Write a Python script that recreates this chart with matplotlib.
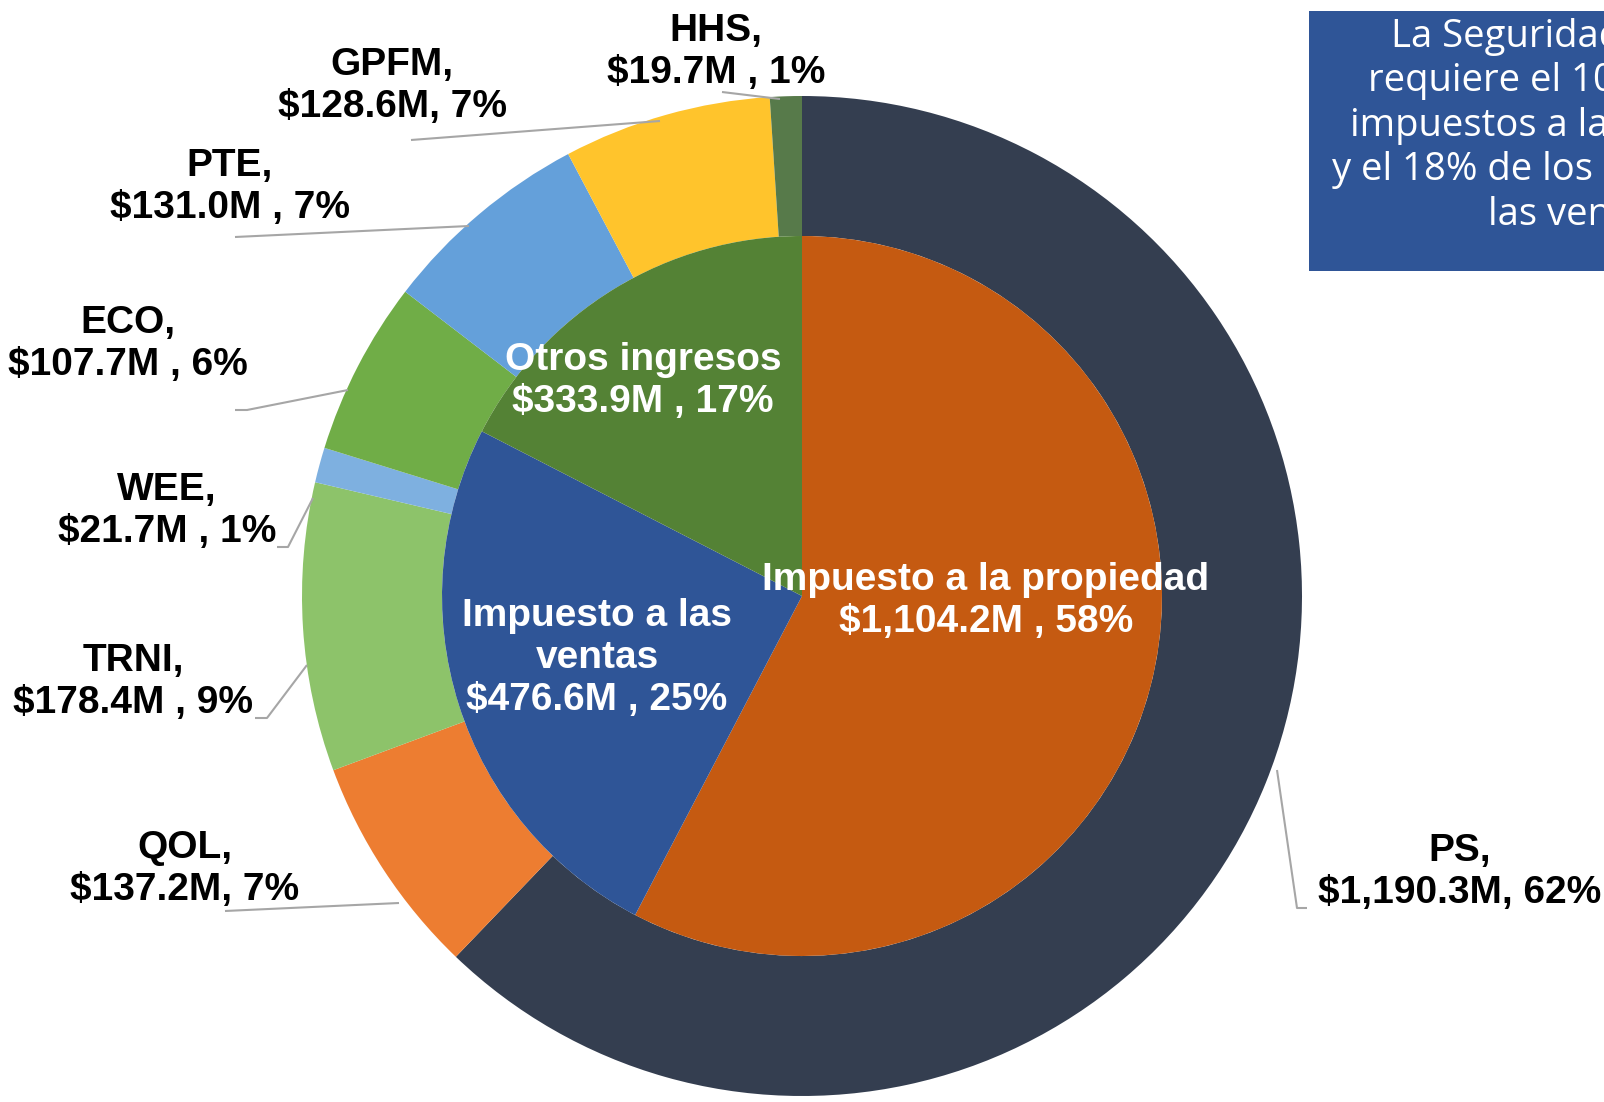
import numpy as np
import matplotlib.pyplot as plt
from matplotlib.patches import Rectangle

# outer ring: spending by area (clockwise from top)
areas = ["PS", "QOL", "TRNI", "WEE", "ECO", "PTE", "GPFM", "HHS"]
area_vals = [1190.3, 137.2, 178.4, 21.7, 107.7, 131.0, 128.6, 19.7]
area_labels = ["PS,\n$1,190.3M, 62%", "QOL,\n$137.2M, 7%", "TRNI,\n$178.4M , 9%",
               "WEE,\n$21.7M , 1%", "ECO,\n$107.7M , 6%", "PTE,\n$131.0M , 7%",
               "GPFM,\n$128.6M, 7%", "HHS,\n$19.7M , 1%"]
area_colors = ["#343E50", "#ED7D31", "#8DC36A", "#7EB0E0", "#70AD47", "#64A0DA", "#FFC42C", "#577A4A"]

# inner pie: revenue sources
sources = ["Impuesto a la propiedad", "Impuesto a las ventas", "Otros ingresos"]
source_vals = [1104.2, 476.6, 333.9]
source_labels = ["Impuesto a la propiedad\n$1,104.2M , 58%",
                 "Impuesto a las\nventas\n$476.6M , 25%",
                 "Otros ingresos\n$333.9M , 17%"]
source_colors = ["#C55A11", "#2F5597", "#548235"]

box_text = ("La Seguridad Pública\nrequiere el 100% de los\nimpuestos a la propiedad\n"
            "y el 18% de los impuestos a\nlas ventas")

W, H = 1604, 1102
fig = plt.figure(figsize=(W / 100, H / 100), dpi=100)
ax = fig.add_axes([0, 0, 1, 1])

cx, cy = 802, 596   # centre in pixel coords (y from top)
R_out, R_in = 500, 360

ax.pie(area_vals, radius=R_out, center=(cx, H - cy), startangle=90, counterclock=False,
       colors=area_colors, wedgeprops=dict(width=R_out - R_in, linewidth=0), frame=True)
ax.pie(source_vals, radius=R_in, center=(cx, H - cy), startangle=90, counterclock=False,
       colors=source_colors, wedgeprops=dict(linewidth=0), frame=True)

ax.set_xlim(0, W)
ax.set_ylim(0, H)
ax.set_aspect("equal")
ax.axis("off")

font = "Liberation Sans"
fs = 28

# outer labels: (x, y) of text centre and leader polyline, pixel coords
lab_pos = [(1460, 872), (185, 869), (133, 682), (167, 511), (128, 344), (230, 187), (392, 86), (716, 52)]
leaders = [
    [(1277, 770), (1297, 908), (1307, 908)],
    [(225, 911), (399, 903)],
    [(255, 718), (267, 718), (307, 665)],
    [(277, 547), (288, 547), (313, 498)],
    [(235, 410), (247, 410), (348, 390)],
    [(235, 237), (469, 226)],
    [(411, 140), (660, 121)],
    [(722, 92), (780, 99)],
]
for txt, (x, y), pts in zip(area_labels, lab_pos, leaders):
    ax.text(x, H - y, txt, ha="center", va="center", fontsize=fs, fontweight="bold",
            family=font, linespacing=1.2, color="black")
    xs = [p[0] for p in pts]
    ys = [H - p[1] for p in pts]
    ax.plot(xs, ys, color="#A6A6A6", lw=1.5, solid_capstyle="butt")

# inner labels
in_pos = [(986, 601), (597, 658), (643, 381)]
for txt, (x, y) in zip(source_labels, in_pos):
    ax.text(x, H - y, txt, ha="center", va="center", fontsize=fs, fontweight="bold",
            family=font, linespacing=1.2, color="white")

# note box (runs off the right edge)
ax.add_patch(Rectangle((1309, H - 271), 560, 260, facecolor="#2F5597", edgecolor="none",
                       clip_on=False))
ax.text(1576, H - 17, box_text, ha="center", va="top", fontsize=27.5, family="Open Sans",
        color="white", linespacing=1.22, multialignment="center")

fig.savefig("out.png", dpi=100)
